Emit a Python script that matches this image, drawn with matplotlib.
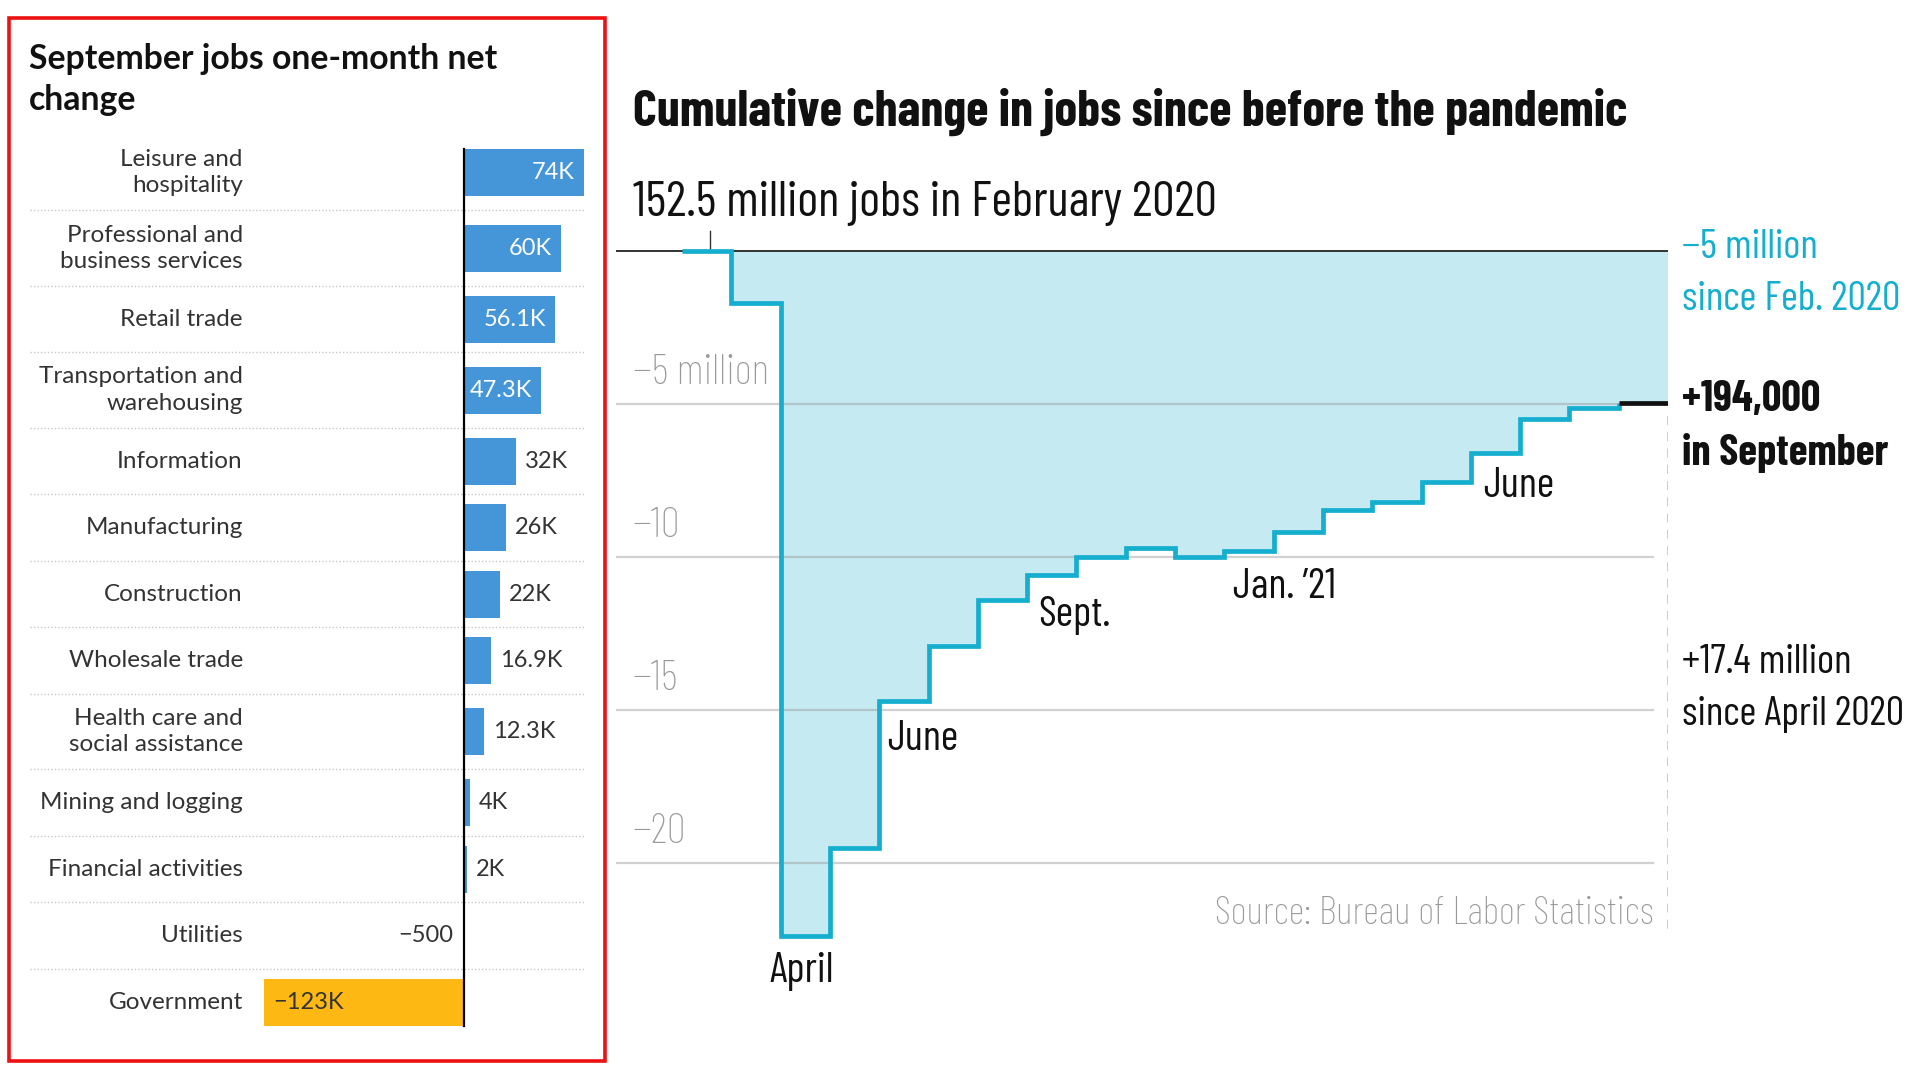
import numpy as np
import matplotlib.pyplot as plt
from matplotlib.patches import Rectangle

# ---- data: left panel (thousands of jobs, Sept. 2021 one-month change)
sectors = ['Leisure and\nhospitality', 'Professional and\nbusiness services', 'Retail trade',
           'Transportation and\nwarehousing', 'Information', 'Manufacturing', 'Construction',
           'Wholesale trade', 'Health care and\nsocial assistance', 'Mining and logging',
           'Financial activities', 'Utilities', 'Government']
changes = [74, 60, 56.1, 47.3, 32, 26, 22, 16.9, 12.3, 4, 2, -0.5, -123]
change_labels = ['74K', '60K', '56.1K', '47.3K', '32K', '26K', '22K', '16.9K', '12.3K',
                 '4K', '2K', '\u2212500', '\u2212123K']
inside = [True, True, True, True, False, False, False, False, False, False, False, False, True]

# ---- data: right panel (cumulative change since Feb. 2020, millions)
months = ['Feb', 'Mar', 'Apr', 'May', 'Jun', 'Jul', 'Aug', 'Sep', 'Oct', 'Nov', 'Dec',
          'Jan', 'Feb', 'Mar', 'Apr', 'May', 'Jun', 'Jul', 'Aug', 'Sep']
cumulative = [0, -1.7, -22.4, -19.5, -14.7, -12.9, -11.4, -10.6, -10.0, -9.7, -10.0,
              -9.8, -9.2, -8.45, -8.2, -7.55, -6.6, -5.5, -5.13, -4.97]
grid_levels = [-5, -10, -15, -20]
grid_labels = ['\u22125 million', '\u221210', '\u221215', '\u221220']
month_notes = [(1.78, -23.55, 'April'), (4.16, -15.95, 'June'), (7.22, -11.9, 'Sept.'),
               (11.18, -11.0, 'Jan. \u201921'), (16.25, -7.7, 'June')]

W, H = 1920, 1080
fig = plt.figure(figsize=(19.2, 10.8), dpi=100)
fig.patch.set_facecolor('white')

LEFT_FONT = ['Lato', 'DejaVu Sans']
NARROW = ['Barlow Condensed', 'DejaVu Sans']

# ---------------- left panel ----------------
fig.patches.append(Rectangle((9 / W, 1 - 1061 / H), 596 / W, 1043 / H, transform=fig.transFigure,
                             fill=False, edgecolor='#ee1111', linewidth=2.6))
fig.text(29 / W, 1 - 43 / H, 'September jobs one-month net\nchange', fontsize=24.3,
         fontweight='bold', family=LEFT_FONT, color='#111111', va='top', linespacing=1.35)

axl = fig.add_axes([30 / W, 1 - 1035.5 / H, 554 / W, 900.5 / H])
heights = np.array([1.135 if '\n' in s else 1.0 for s in sectors])
tops = np.concatenate([[0], np.cumsum(heights)[:-1]])
centers = tops + heights / 2
axl.set_xlim(-267, 74)
axl.set_ylim(heights.sum(), 0)
axl.axis('off')

colors = ['#fdb813' if v < -1 else '#4596d8' for v in changes]
axl.barh(centers, changes, height=0.707, color=colors, zorder=2)
for b in tops[1:]:
    axl.plot([-267, 74], [b, b], color='#c8c8c8', lw=1, ls=(0, (1, 1.5)), zorder=1)
axl.plot([0, 0], [centers[0] - 0.3535, centers[-1] + 0.3535], color='black', lw=1.6, zorder=3)

for c, s, v, lab, ins in zip(centers, sectors, changes, change_labels, inside):
    axl.text(-136, c, s, ha='right', va='center', fontsize=17.5, family=LEFT_FONT,
             color='#333333', linespacing=1.32)
    if v >= 0:
        if ins:
            axl.text(v - 5.5, c, lab, ha='right', va='center', fontsize=17, family=LEFT_FONT, color='white', zorder=4)
        else:
            axl.text(v + 5.5, c, lab, ha='left', va='center', fontsize=17, family=LEFT_FONT, color='#333333', zorder=4)
    else:
        if ins:
            axl.text(v + 5.5, c, lab, ha='left', va='center', fontsize=17, family=LEFT_FONT, color='#333333', zorder=4)
        else:
            axl.text(-6.5, c, lab, ha='right', va='center', fontsize=17, family=LEFT_FONT, color='#333333', zorder=4)

# ---------------- right panel ----------------
fig.text(633 / W, 1 - 112 / H, 'Cumulative change in jobs since before the pandemic', fontsize=37,
         fontweight='bold', family=NARROW, color='#111111', va='center')

ax = fig.add_axes([616 / W, 1 - 1000 / H, 1052 / W, 820 / H])
ax.set_xlim(-1.34, 20)
ax.set_ylim(-24.48, 2.32)
ax.axis('off')

n = len(cumulative)
edges = np.arange(n + 1)
fill_y = cumulative + [cumulative[-1]]
ax.fill_between(edges, fill_y, 0, step='post', color='#c6eaf2', lw=0, zorder=1)

for lv, lab in zip(grid_levels, grid_labels):
    xr = 20 if lv == -5 else 19.7
    ax.plot([-1.34, xr], [lv, lv], color='#999999', alpha=0.45, lw=1.6, zorder=2)
    ax.text(-1.0, lv + 1.0, lab, ha='left', va='center', fontsize=30.5, family=NARROW,
            fontweight='light', color='#999999')

ax.plot([-1.34, 20], [0, 0], color='#333333', lw=1.4, zorder=3)
ax.plot([0.57, 0.57], [0, 0.65], color='#333333', lw=1.0, zorder=3)
ax.plot([20, 20], [-5.4, -22.3], color='#c8c8c8', lw=1.3, ls=(0, (5, 4)), zorder=2)

ax.plot(np.arange(n), cumulative, drawstyle='steps-post', color='#15aecf', lw=3.4,
        solid_joinstyle='miter', solid_capstyle='butt', zorder=4)
ax.plot([n - 1, n], [cumulative[-1], cumulative[-1]], color='#111111', lw=3.4, zorder=5,
        solid_capstyle='butt')

ax.text(-1.0, 1.55, '152.5 million jobs in February 2020', ha='left', va='center', fontsize=36,
        family=NARROW, color='#111111')
for x, y, t in month_notes:
    ax.text(x, y, t, ha='left', va='center', fontsize=30.5, family=NARROW, color='#111111')
ax.text(19.7, -21.67, 'Source: Bureau of Labor Statistics', ha='right', va='center', fontsize=28.5,
        family=NARROW, fontweight='light', color='#999999')

ax.text(20.29, 0.1, '\u22125 million', ha='left', va='center', fontsize=29.5, family=NARROW, color='#15aecf')
ax.text(20.29, -1.6, 'since Feb. 2020', ha='left', va='center', fontsize=29.5, family=NARROW, color='#15aecf')
ax.text(20.29, -4.87, '+194,000', ha='left', va='center', fontsize=31, family=NARROW,
        fontweight='bold', color='#111111')
ax.text(20.29, -6.6, 'in September', ha='left', va='center', fontsize=31, family=NARROW,
        fontweight='bold', color='#111111')
ax.text(20.29, -13.46, '+17.4 million', ha='left', va='center', fontsize=29.5, family=NARROW, color='#111111')
ax.text(20.29, -15.16, 'since April 2020', ha='left', va='center', fontsize=29.5, family=NARROW, color='#111111')

fig.savefig('out.png', dpi=100, facecolor='white')
